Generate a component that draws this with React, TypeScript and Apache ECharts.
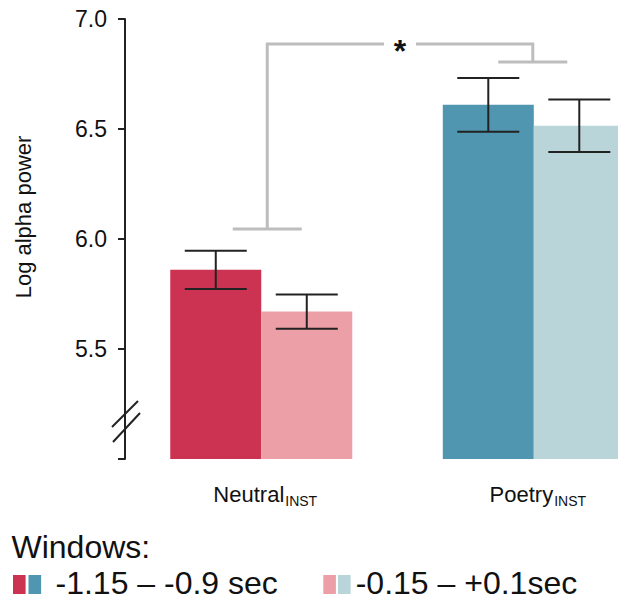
import React, { useEffect, useRef } from "react";
import * as echarts from "echarts";

const categories = ["Neutral", "Poetry"];
const categoryPos = [0, 1];
const earlyMeans = [5.86, 6.61];
const earlyErr = [0.087, 0.122];
const lateMeans = [5.67, 6.515];
const lateErr = [0.078, 0.119];
const yTicks = [5.5, 6.0, 6.5, 7.0];
const sigLeftLevel = 6.045;
const sigTopLevel = 6.886;
const sigRightLevel = 6.805;
const legendLabels = ["-1.15 – -0.9 sec", "-0.15 – +0.1sec"];

const earlyColors = ["#CC3251", "#5196B1"];
const lateColors = ["#EC9FA6", "#B9D5DA"];
const FONT = "'Liberation Sans', Arial, Helvetica, sans-serif";
const BAR_W = 91;

export default function App() {
  const ref = useRef<HTMLDivElement>(null);
  useEffect(() => {
    if (!ref.current) return;
    const chart = echarts.init(ref.current, undefined, { renderer: "svg" });

    const errData: number[][] = [];
    categories.forEach((_, i) => {
      errData.push([categoryPos[i], earlyMeans[i] - earlyErr[i], earlyMeans[i] + earlyErr[i], -1]);
      errData.push([categoryPos[i], lateMeans[i] - lateErr[i], lateMeans[i] + lateErr[i], 1]);
    });

    const option: any = {
      animation: false,
      textStyle: { fontFamily: FONT },
      grid: { left: 125, top: 19, bottom: 140, right: 0 },
      xAxis: {
        type: "value",
        min: -0.5,
        max: 1.309,
        splitLine: { show: false },
        axisLine: { show: false, onZero: false },
        axisTick: { show: false },
        axisLabel: {
          margin: 21,
          customValues: categoryPos,
          showMinLabel: true,
          showMaxLabel: true,
          formatter: (v: number) => {
            const idx = categoryPos.indexOf(Math.round(v));
            return idx >= 0 && Math.abs(v - Math.round(v)) < 1e-6 ? `{a|${categories[idx]}}{b|INST}` : "";
          },
          rich: {
            a: { fontSize: 22, color: "#111", fontFamily: FONT, padding: [0, 0, 0, 8] },
            b: { fontSize: 14, color: "#111", fontFamily: FONT, padding: [14, 0, 0, 1] },
          },
        },
      },
      yAxis: {
        type: "value",
        min: 5,
        max: 7,
        interval: 0.5,
        splitLine: { show: false },
        axisLine: { show: true, onZero: false, lineStyle: { color: "#222", width: 2 } },
        axisTick: { show: true, length: 7, lineStyle: { color: "#222", width: 2 } },
        axisLabel: {
          margin: 18,
          fontSize: 23,
          color: "#111",
          fontFamily: FONT,
          formatter: (v: number) => (yTicks.some((t) => Math.abs(t - v) < 1e-9) ? v.toFixed(1) : ""),
        },
      },
      series: [
        {
          type: "bar",
          name: legendLabels[0],
          barWidth: BAR_W,
          barGap: "0%",
          data: earlyMeans.map((v, i) => ({ value: [categoryPos[i], v], itemStyle: { color: earlyColors[i] } })),
        },
        {
          type: "bar",
          name: legendLabels[1],
          barWidth: BAR_W,
          barGap: "0%",
          data: lateMeans.map((v, i) => ({ value: [categoryPos[i], v], itemStyle: { color: lateColors[i] } })),
        },
        {
          type: "custom",
          clip: false,
          z: 5,
          data: errData,
          renderItem: (params: any, api: any) => {
            const i = api.value(0);
            const lo = api.coord([i, api.value(1)]);
            const hi = api.coord([i, api.value(2)]);
            const x = lo[0] + (api.value(3) * BAR_W) / 2;
            const cap = 31;
            const st = { stroke: "#222", lineWidth: 2 };
            return {
              type: "group",
              children: [
                { type: "line", shape: { x1: x, y1: lo[1], x2: x, y2: hi[1] }, style: st },
                { type: "line", shape: { x1: x - cap, y1: lo[1], x2: x + cap, y2: lo[1] }, style: st },
                { type: "line", shape: { x1: x - cap, y1: hi[1], x2: x + cap, y2: hi[1] }, style: st },
              ],
            };
          },
        },
        {
          type: "custom",
          clip: false,
          z: 6,
          data: [[categoryPos[0], categoryPos[1], sigLeftLevel, sigTopLevel, sigRightLevel]],
          renderItem: (params: any, api: any) => {
            const pl = api.coord([api.value(0), api.value(2)]);
            const pt = api.coord([api.value(0), api.value(3)]);
            const pr = api.coord([api.value(1), api.value(4)]);
            const xL = pl[0] + 6;
            const xR = pr[0] - 1;
            const yL = pl[1];
            const yT = pt[1];
            const yR = pr[1];
            const mid = (xL + xR) / 2;
            const half = 34.5;
            const gap = 16;
            const st = { stroke: "#BDBDBD", lineWidth: 3, fill: null };
            return {
              type: "group",
              children: [
                { type: "line", shape: { x1: xL - half, y1: yL, x2: xL + half, y2: yL }, style: st },
                { type: "polyline", shape: { points: [[xL, yL], [xL, yT], [mid - gap, yT]] }, style: st },
                { type: "polyline", shape: { points: [[mid + gap, yT], [xR, yT], [xR, yR]] }, style: st },
                { type: "line", shape: { x1: xR - half, y1: yR, x2: xR + half, y2: yR }, style: st },
                {
                  type: "text",
                  x: mid,
                  y: yT + 7,
                  style: {
                    text: "*",
                    fontSize: 32,
                    fontWeight: "bold",
                    fontFamily: FONT,
                    fill: "#111",
                    align: "center",
                    verticalAlign: "middle",
                  },
                },
              ],
            };
          },
        },
      ],
      graphic: [
        {
          type: "text",
          x: 23,
          y: 217,
          rotation: Math.PI / 2,
          style: {
            text: "Log alpha power",
            fontSize: 22,
            fontFamily: FONT,
            fill: "#111",
            align: "center",
            verticalAlign: "middle",
          },
        },
        { type: "line", shape: { x1: 112, y1: 427, x2: 138, y2: 401 }, style: { stroke: "#222", lineWidth: 2 } },
        { type: "line", shape: { x1: 113, y1: 442, x2: 140, y2: 413 }, style: { stroke: "#222", lineWidth: 2 } },
        {
          type: "text",
          x: 11.5,
          y: 546.5,
          style: { text: "Windows:", fontSize: 32, lineHeight: 32, fontFamily: FONT, fill: "#111", align: "left", verticalAlign: "middle" },
        },
        { type: "rect", shape: { x: 13, y: 575, width: 12.6, height: 19 }, style: { fill: earlyColors[0] } },
        { type: "rect", shape: { x: 28.5, y: 575, width: 12.6, height: 19 }, style: { fill: earlyColors[1] } },
        {
          type: "text",
          x: 55.5,
          y: 582.5,
          style: { text: legendLabels[0], fontSize: 32, lineHeight: 30, fontFamily: FONT, fill: "#111", align: "left", verticalAlign: "middle" },
        },
        { type: "rect", shape: { x: 323.3, y: 575, width: 12.6, height: 19 }, style: { fill: lateColors[0] } },
        { type: "rect", shape: { x: 338, y: 575, width: 12.6, height: 19 }, style: { fill: lateColors[1] } },
        {
          type: "text",
          x: 355.7,
          y: 582.5,
          style: { text: legendLabels[1], fontSize: 32, lineHeight: 30, fontFamily: FONT, fill: "#111", align: "left", verticalAlign: "middle" },
        },
      ],
    };
    chart.setOption(option);
    return () => chart.dispose();
  }, []);
  return (
    <div
      ref={ref}
      style={{ position: "fixed", left: 0, top: 0, width: 618, height: 599, background: "#fff" }}
    />
  );
}
